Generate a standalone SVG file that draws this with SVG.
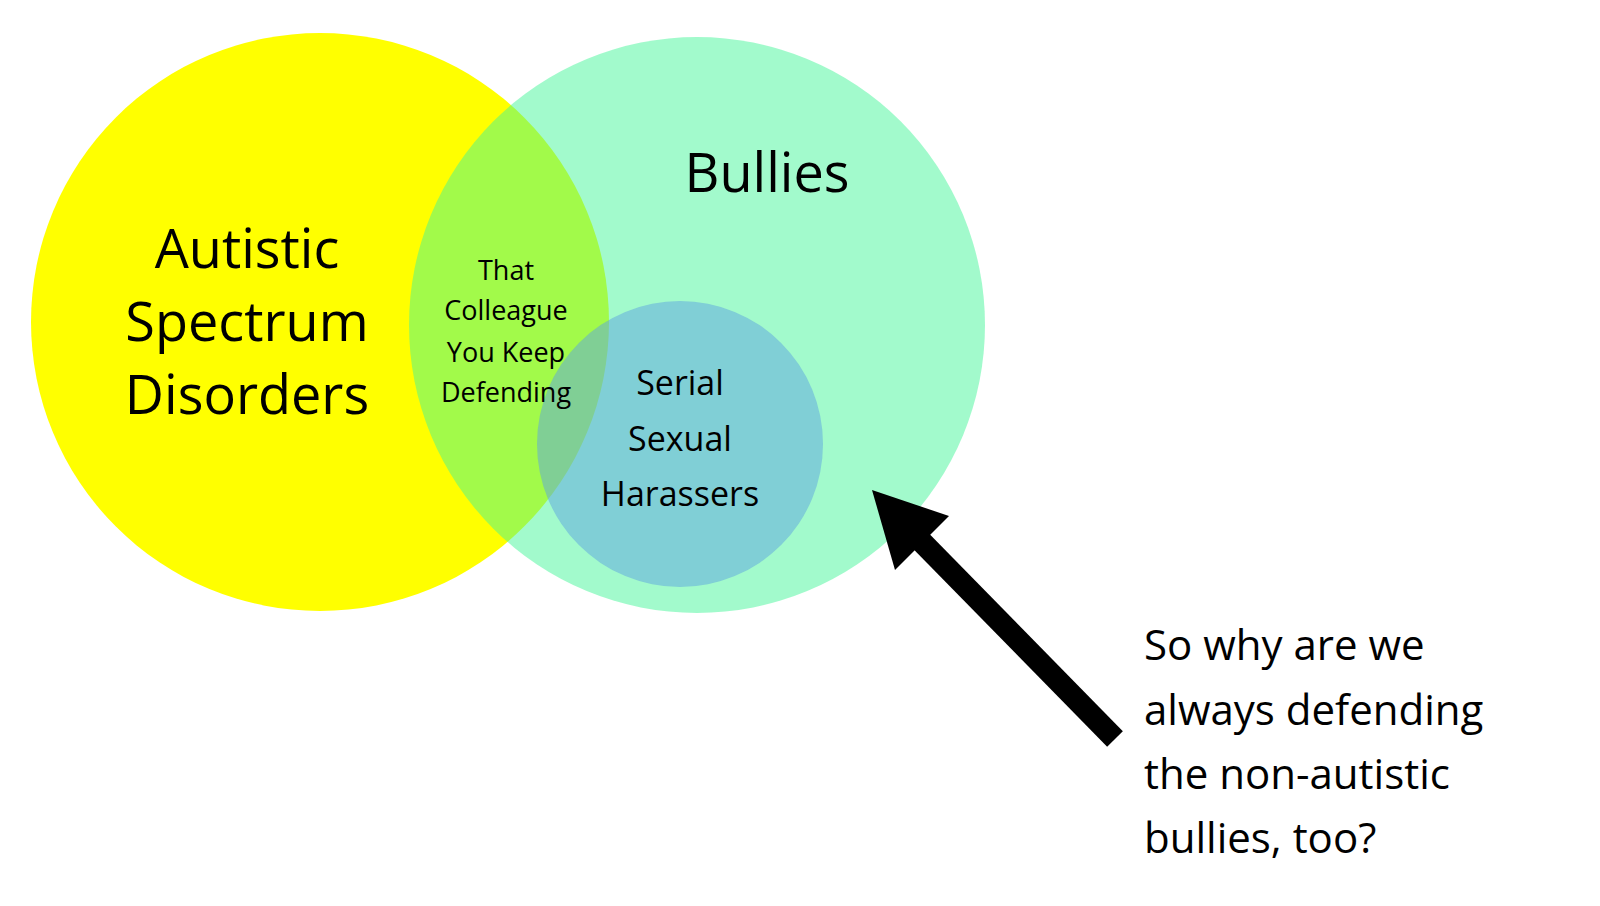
<svg xmlns="http://www.w3.org/2000/svg" width="1600" height="906" viewBox="0 0 1600 906">
<style>
text{font-family:"Open Sans","Liberation Sans",sans-serif;fill:#000;text-anchor:middle}
.big{font-size:54px}.mid{font-size:34px}.sm{font-size:27px}.note{font-size:42px;text-anchor:start}
</style>
<rect width="1600" height="906" fill="#fff"/>
<g id="autistic"><circle cx="320" cy="322" r="289" fill="#ffff00"/>
<text class="big" x="247" y="268">Autistic</text><text class="big" x="247" y="341">Spectrum</text><text class="big" x="247" y="414">Disorders</text></g>
<g id="bullies"><circle cx="697" cy="325" r="288" fill="rgb(65,245,151)" fill-opacity="0.49"/>
<text class="big" x="767" y="192">Bullies</text></g>
<g id="harassers"><circle cx="680" cy="444" r="143" fill="rgb(94,163,224)" fill-opacity="0.5"/>
<text class="mid" x="680" y="395">Serial</text><text class="mid" x="680" y="451">Sexual</text><text class="mid" x="680" y="506">Harassers</text></g>
<g id="colleague"><text class="sm" x="506" y="280">That</text><text class="sm" x="506" y="320">Colleague</text><text class="sm" x="506" y="362">You Keep</text><text class="sm" x="506" y="402">Defending</text></g>
<g id="connectors"><line x1="1115" y1="739" x2="915" y2="535" stroke="#000" stroke-width="22"/>
<polygon points="872,490 949,516 895,570" fill="#000"/></g>
<g id="note"><text class="note" x="1144" y="660">So why are we</text><text class="note" x="1144" y="725">always defending</text><text class="note" x="1144" y="789">the non-autistic</text><text class="note" x="1144" y="853">bullies, too?</text></g>
</svg>
